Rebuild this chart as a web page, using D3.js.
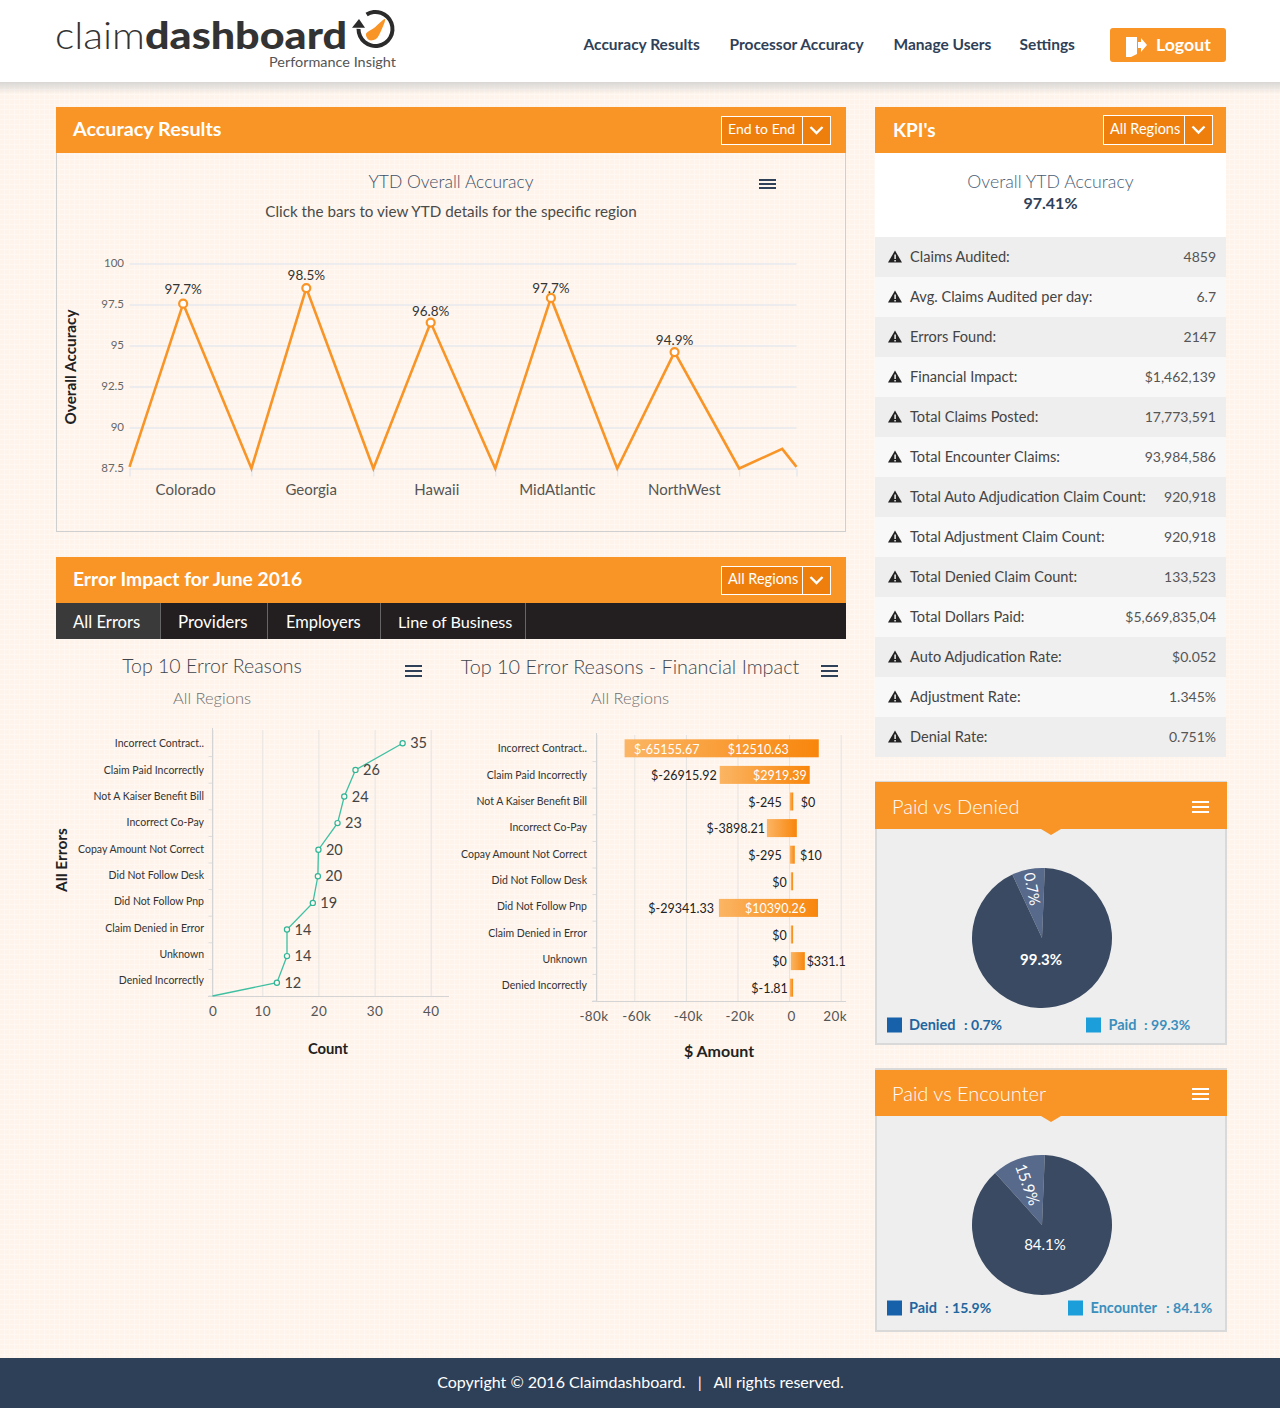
<!DOCTYPE html>
<html>
<head>
<meta charset="utf-8">
<title>Claimdashboard</title>
<script src="https://cdnjs.cloudflare.com/ajax/libs/d3/7.8.5/d3.min.js"></script>
<style>
html, body { margin: 0; padding: 0; background: #fef5ed; }
svg { display: block; }
text { font-family: Lato, "Open Sans", sans-serif; }
</style>
</head>
<body>
<div id="chart-area"></div>
<script>
// Navigation and KPI table
var navItems = ["Accuracy Results", "Processor Accuracy", "Manage Users", "Settings"];
var tabs = ["All Errors", "Providers", "Employers", "Line of Business"];
var kpiLabels = ["Claims Audited:", "Avg. Claims Audited per day:", "Errors Found:", "Financial Impact:",
	"Total Claims Posted:", "Total Encounter Claims:", "Total Auto Adjudication Claim Count:",
	"Total Adjustment Claim Count:", "Total Denied Claim Count:", "Total Dollars Paid:",
	"Auto Adjudication Rate:", "Adjustment Rate:", "Denial Rate:"];
var kpiValues = ["4859", "6.7", "2147", "$1,462,139", "17,773,591", "93,984,586", "920,918",
	"920,918", "133,523", "$5,669,835,04", "$0.052", "1.345%", "0.751%"];

// YTD accuracy line: peaks per region, drops to the base between them
var regions = ["Colorado", "Georgia", "Hawaii", "MidAtlantic", "NorthWest"];
var regionLabelPos = [0.46, 1.49, 2.52, 3.51, 4.55];
var accuracyPos = [0, 0.44, 1, 1.45, 2, 2.47, 3, 3.456, 4, 4.47, 5, 5.353, 5.47];
var accuracyVal = [87.6, 97.55, 87.5, 98.5, 87.5, 96.4, 87.5, 97.9, 87.5, 94.6, 87.5, 88.7, 87.6];
var peakIndex = [1, 3, 5, 7, 9];
var peakLabels = ["97.7%", "98.5%", "96.8%", "97.7%", "94.9%"];
var accuracyTicks = [87.5, 90, 92.5, 95, 97.5, 100];

// Top 10 error reasons
var reasons = ["Incorrect Contract..", "Claim Paid Incorrectly", "Not A Kaiser Benefit Bill", "Incorrect Co-Pay",
	"Copay Amount Not Correct", "Did Not Follow Desk", "Did Not Follow Pnp", "Claim Denied in Error",
	"Unknown", "Denied Incorrectly"];
var countLabels = ["35", "26", "24", "23", "20", "20", "19", "14", "14", "12"];
var countPlotted = [35, 26.6, 24.6, 23.4, 20, 19.9, 19, 14.4, 14.4, 12.6];
var countTicks = [0, 10, 20, 30, 40];

// Financial impact: bar ends as drawn, with the printed amounts beside them
var barLow = [-65155, -26900, 300, -8600, 300, 660, -27200, 660, 660, 300];
var barHigh = [11500, 8000, 1600, 3000, 2200, 1550, 11200, 1550, 6100, 1550];
var lowLabels = ["$-65155.67", "$-26915.92", "$-245", "$-3898.21", "$-295", "$0", "$-29341.33", "$0", "$0", "$-1.81"];
var highLabels = ["$12510.63", "$2919.39", "$0", "", "$10", "", "$10390.26", "", "$331.1", ""];
var amountTicks = [-80000, -60000, -40000, -20000, 0, 20000];

// Pies: first value is the lighter slice as drawn
var denialSlices = [7.6, 92.4];
var denialLabels = ["0.7%", "99.3%"];
var encounterSlices = [12.3, 87.7];
var encounterLabels = ["15.9%", "84.1%"];

var ORANGE = "#f99426", SLATE = "#2f4158";

var svg = d3.select("#chart-area").append("svg")
	.attr("width", 1280)
	.attr("height", 1408);
var defs = svg.append("defs");

// Page background with its faint grid
var tile = defs.append("pattern").attr("id", "grid")
	.attr("width", 5).attr("height", 5).attr("patternUnits", "userSpaceOnUse");
tile.append("rect").attr("width", 5).attr("height", 5).attr("fill", "#fff8f2");
tile.append("rect").attr("width", 4).attr("height", 4).attr("fill", "#fef4eb");
svg.append("rect").attr("width", 1280).attr("height", 1408).attr("fill", "url(#grid)");

var shadow = defs.append("linearGradient").attr("id", "shadow").attr("x2", 0).attr("y2", 1);
shadow.append("stop").attr("offset", 0).attr("stop-color", "#cfcfcf").attr("stop-opacity", 0.8);
shadow.append("stop").attr("offset", 1).attr("stop-color", "#cfcfcf").attr("stop-opacity", 0);

var barFill = defs.append("linearGradient").attr("id", "barFill");
barFill.append("stop").attr("offset", 0).attr("stop-color", "#fbb564");
barFill.append("stop").attr("offset", 1).attr("stop-color", "#f8860c");

function label(parent, x, y, str, size, color, anchor, weight) {
	return parent.append("text")
		.attr("x", x)
		.attr("y", y)
		.attr("dy", "0.35em")
		.attr("font-size", size)
		.attr("fill", color)
		.attr("text-anchor", anchor || "start")
		.attr("font-weight", weight || 400)
		.text(str);
}

function hamburger(x, y, w, gap, color) {
	[0, 1, 2].forEach(function(i) {
		svg.append("rect").attr("x", x).attr("y", y + i * gap)
			.attr("width", w).attr("height", 2).attr("fill", color);
	});
}

function chevron(cx, cy) {
	svg.append("path")
		.attr("d", d3.line()([[cx - 6, cy - 3], [cx, cy + 3], [cx + 6, cy - 3]]))
		.attr("fill", "none").attr("stroke", "#fff").attr("stroke-width", 2.4);
}

function dropdown(x, y, h, str, size) {
	svg.append("rect").attr("x", x + 0.5).attr("y", y + 0.5).attr("width", 109).attr("height", h)
		.attr("fill", "#ee7f0d").attr("stroke", "#fff");
	svg.append("line").attr("x1", x + 81.5).attr("x2", x + 81.5).attr("y1", y).attr("y2", y + h)
		.attr("stroke", "#fff");
	label(svg, x + 7, y + h / 2 - 1, str, size, "#fff");
	chevron(x + 95.5, y + h / 2);
}

// Top bar
svg.append("rect").attr("width", 1280).attr("height", 82).attr("fill", "#fff");
svg.append("rect").attr("y", 82).attr("width", 1280).attr("height", 12).attr("fill", "url(#shadow)");

svg.append("text").attr("x", 55).attr("y", 49).attr("font-size", 38).attr("font-weight", 300)
	.attr("fill", "#333").attr("textLength", 90).attr("lengthAdjust", "spacingAndGlyphs").text("claim");
svg.append("text").attr("x", 145).attr("y", 49).attr("font-size", 38).attr("font-weight", 900)
	.attr("fill", "#333").attr("textLength", 202).attr("lengthAdjust", "spacingAndGlyphs").text("dashboard");
label(svg, 269, 62, "Performance Insight", 13.5, "#555")
	.attr("textLength", 127).attr("lengthAdjust", "spacingAndGlyphs");
svg.append("path")
	.attr("d", d3.arc()({innerRadius: 15, outerRadius: 19, startAngle: -0.55, endAngle: 4.72}))
	.attr("transform", "translate(375.5,29)").attr("fill", "#2b2b2b");
svg.append("path")
	.attr("d", d3.line()([[352, 27.7], [365, 27.7], [359, 19]]))
	.attr("fill", "#2b2b2b");
svg.append("path")
	.attr("d", d3.line().curve(d3.curveCatmullRomClosed)([[366, 34], [374, 28], [385, 19], [381, 31], [376, 39], [369, 40]]))
	.attr("fill", ORANGE);

var navX = [583.5, 729.5, 893.5, 1019.5];
navItems.forEach(function(d, i) {
	label(svg, navX[i], 44.5, d, 15.5, SLATE, "start", 700);
});

svg.append("rect").attr("x", 1110).attr("y", 28).attr("width", 116).attr("height", 34)
	.attr("rx", 3).attr("fill", ORANGE);
svg.append("path").attr("d", "M1126 37h11v17l-6 3h-5zM1138 42h3v-4l6 7-6 7v-4h-3z").attr("fill", "#fff");
label(svg, 1156, 45, "Logout", 17.7, "#fff", "start", 700);

// Accuracy Results panel
svg.append("rect").attr("x", 56.5).attr("y", 150.5).attr("width", 789).attr("height", 381)
	.attr("fill", "none").attr("stroke", "#cfcfcf");
svg.append("rect").attr("x", 56).attr("y", 107).attr("width", 790).attr("height", 46).attr("fill", ORANGE);
label(svg, 73, 129, "Accuracy Results", 19.8, "#fff", "start", 700);
dropdown(721, 116, 28, "End to End", 14);
label(svg, 451, 182, "YTD Overall Accuracy", 17.5, "#3f5068", "middle", 300);
label(svg, 451, 212, "Click the bars to view YTD details for the specific region", 15.2, "#4a4a4a", "middle", 400);
hamburger(759, 179, 17, 4, SLATE);

var accX = d3.scaleLinear().domain([0, 5.47]).range([129.5, 796.5]);
var accY = d3.scaleLinear().domain([87.5, 100]).range([468.5, 263.5]);

var accGrid = svg.append("g").attr("transform", "translate(129.5,0)")
	.call(d3.axisLeft(accY).tickValues(accuracyTicks).tickSize(-667).tickPadding(5.5).tickFormat(d3.format("")));
accGrid.select(".domain").remove();
accGrid.selectAll("line").attr("stroke", "#dbe2ee");
accGrid.selectAll("text").attr("font-size", 11.5).attr("fill", "#666").attr("dy", "0.25em");

var accBottom = svg.append("g").attr("transform", "translate(0,468.5)")
	.call(d3.axisBottom(accX).tickValues([0, 1, 2, 3, 4, 5, 5.47]).tickSize(8).tickFormat(""));
accBottom.select(".domain").remove();
accBottom.selectAll("line").attr("stroke", "#dbe2ee");

regions.forEach(function(d, i) {
	label(svg, accX(regionLabelPos[i]), 490, d, 15, "#555", "middle", 400);
});

svg.append("path")
	.attr("d", d3.line()
		.x(function(d, i) { return accX(accuracyPos[i]); })
		.y(function(d) { return accY(d); })(accuracyVal))
	.attr("fill", "none").attr("stroke", ORANGE).attr("stroke-width", 2.6);

svg.selectAll(".peak").data(peakIndex).enter().append("circle")
	.attr("class", "peak")
	.attr("cx", function(d) { return accX(accuracyPos[d]); })
	.attr("cy", function(d) { return accY(accuracyVal[d]); })
	.attr("r", 4)
	.attr("fill", "#fff")
	.attr("stroke", ORANGE)
	.attr("stroke-width", 2.2);

// gap between each peak and its printed value
var peakGap = [14, 13, 11, 10, 12];
peakIndex.forEach(function(d, i) {
	label(svg, accX(accuracyPos[d]), accY(accuracyVal[d]) - peakGap[i], peakLabels[i], 13.5, "#333", "middle");
});

svg.append("text").attr("transform", "translate(71,367) rotate(-90)").attr("dy", "0.35em")
	.attr("text-anchor", "middle").attr("font-size", 15.3).attr("font-weight", 700).attr("fill", "#222")
	.text("Overall Accuracy");

// Error Impact panel
svg.append("rect").attr("x", 56).attr("y", 557).attr("width", 790).attr("height", 46).attr("fill", ORANGE);
label(svg, 73, 579, "Error Impact for June 2016", 19.3, "#fff", "start", 700);
dropdown(721, 566, 28, "All Regions", 14.5);

var tabEdges = [56, 160, 267, 380, 525];
var tabSizes = [16.7, 16.9, 16.4, 16.2];
svg.append("rect").attr("x", 56).attr("y", 603).attr("width", 790).attr("height", 36).attr("fill", "#231f20");
svg.append("rect").attr("x", 56).attr("y", 603).attr("width", 104).attr("height", 36).attr("fill", "#3a3a3a");
tabs.forEach(function(d, i) {
	label(svg, tabEdges[i] + (i === 2 ? 19 : i ? 18 : 17), 622, d, tabSizes[i], "#fff");
	svg.append("line").attr("x1", tabEdges[i + 1] + 0.5).attr("x2", tabEdges[i + 1] + 0.5)
		.attr("y1", 603).attr("y2", 639).attr("stroke", "#666");
});

label(svg, 212, 666, "Top 10 Error Reasons", 19.5, "#3f464e", "middle", 300);
label(svg, 212, 698, "All Regions", 16.5, "#6f6f6f", "middle", 300);
label(svg, 630, 667, "Top 10 Error Reasons - Financial Impact", 19.85, "#3f464e", "middle", 300);
label(svg, 630, 698, "All Regions", 16.5, "#6f6f6f", "middle", 300);
hamburger(405, 665, 17, 5, SLATE);
hamburger(821, 665, 17, 5, SLATE);

function reasonAxis(axisX, gap, yEdges, yLabels) {
	var g = svg.append("g").attr("transform", "translate(" + (axisX - gap) + ",0)")
		.call(d3.axisLeft(yLabels).tickSize(0).tickPadding(0));
	g.select(".domain").remove();
	g.selectAll("text").attr("font-size", 12).attr("fill", "#333")
		.attr("lengthAdjust", "spacingAndGlyphs")
		.attr("textLength", function() { return this.getComputedTextLength() * 0.875; });
	yEdges.domain().forEach(function(d) {
		svg.append("line").attr("x1", axisX - 4).attr("x2", axisX)
			.attr("y1", yEdges(d) + yEdges.step()).attr("y2", yEdges(d) + yEdges.step())
			.attr("stroke", "#dcdcdc");
	});
	svg.append("line").attr("x1", axisX).attr("x2", axisX)
		.attr("y1", yEdges.range()[0] - 2).attr("y2", yEdges.range()[1])
		.attr("stroke", "#d4d4d4");
}

function xAxisGrid(xScale, yEdges, ticks, format) {
	var top = yEdges.range()[0], bottom = yEdges.range()[1];
	var g = svg.append("g").attr("transform", "translate(0," + bottom + ")")
		.call(d3.axisBottom(xScale).tickValues(ticks).tickSize(top - bottom).tickPadding(0).tickFormat(format));
	g.select(".domain").remove();
	g.selectAll("line").attr("stroke", "#e6e3e0");
	g.selectAll("text").attr("font-size", 13.5).attr("fill", "#555").attr("y", 10).attr("letter-spacing", "0.4px");
	return g;
}

// Count chart
var countX = d3.scaleLinear().domain([0, 10, 40]).range([212.5, 262.3, 430.7]);
var countY = d3.scaleBand().domain(reasons).range([730, 996]);
var countYLabel = d3.scalePoint().domain(reasons).range([743, 980]);

xAxisGrid(countX, countY, countTicks, d3.format("d"));
svg.append("line").attr("x1", 208).attr("x2", 449).attr("y1", 996.5).attr("y2", 996.5).attr("stroke", "#d4d4d4");
reasonAxis(212.5, 8.5, countY, countYLabel);

var countPoints = countPlotted.map(function(d, i) {
	return [countX(d), countY(reasons[i]) + countY.bandwidth() / 2];
});
svg.append("path")
	.attr("d", d3.line()(countPoints.concat([[countX(0), countY.range()[1]]])))
	.attr("fill", "none").attr("stroke", "#3fc0a2").attr("stroke-width", 1.3);
svg.selectAll(".count").data(countPoints).enter().append("circle")
	.attr("class", "count")
	.attr("cx", function(d) { return d[0]; })
	.attr("cy", function(d) { return d[1]; })
	.attr("r", 2.6)
	.attr("fill", "#fff8f2")
	.attr("stroke", "#2fb596")
	.attr("stroke-width", 1.2);
countPoints.forEach(function(d, i) {
	label(svg, d[0] + 7.5, d[1], countLabels[i], 14.5, "#444");
});

label(svg, 328, 1049, "Count", 14.8, "#222", "middle", 700);
svg.append("text").attr("transform", "translate(62,860) rotate(-90)").attr("dy", "0.35em")
	.attr("text-anchor", "middle").attr("font-size", 15.5).attr("font-weight", 700).attr("fill", "#222")
	.text("All Errors");

// Amount chart
var amountX = d3.scaleLinear().domain([-80000, -60000, 20000]).range([596.5, 634.3, 840.7]);
var amountY = d3.scaleBand().domain(reasons).range([735, 1001]);
var amountYLabel = d3.scalePoint().domain(reasons).range([748, 985]);

var amountFormat = function(d) { return d ? (d / 1000) + "k" : "0"; };
var amountGrid = xAxisGrid(amountX, amountY, amountTicks, amountFormat);
amountGrid.selectAll("text")
	.attr("dx", function(d) { return d === 20000 ? -6 : d === -80000 ? -3 : 2; });
svg.append("line").attr("x1", 592).attr("x2", 846).attr("y1", 1001.5).attr("y2", 1001.5).attr("stroke", "#d4d4d4");
reasonAxis(596.5, 9.5, amountY, amountYLabel);

svg.selectAll(".amount").data(reasons).enter().append("rect")
	.attr("class", "amount")
	.attr("x", function(d, i) { return amountX(barLow[i]); })
	.attr("y", function(d) { return amountY(d) + (amountY.bandwidth() - 18) / 2; })
	.attr("width", function(d, i) { return amountX(barHigh[i]) - amountX(barLow[i]); })
	.attr("height", 18)
	.attr("fill", "url(#barFill)");

// where each printed amount sits, relative to its bar end
var lowNudge = [75, -3, -8, -2, -8, -4, -5, -4, -4, -2];
var highNudge = [-30, -3, 22, 0, 27, 0, -12, 0, 41, 0];
reasons.forEach(function(d, i) {
	var cy = amountY(d) + amountY.bandwidth() / 2 + 1;
	label(svg, amountX(barLow[i]) + lowNudge[i], cy, lowLabels[i], 12.5, lowNudge[i] > 0 ? "#fff" : "#222", "end");
	if (highLabels[i]) {
		label(svg, amountX(barHigh[i]) + highNudge[i], cy, highLabels[i], 12.5, highNudge[i] < 0 ? "#fff" : "#222", "end");
	}
});

label(svg, 719, 1051, "$ Amount", 16, "#222", "middle", 700);

// KPI panel
svg.append("rect").attr("x", 875).attr("y", 107).attr("width", 351).attr("height", 46).attr("fill", ORANGE);
label(svg, 893, 130, "KPI's", 19, "#fff", "start", 700);
dropdown(1103, 115, 29, "All Regions", 14.5);
svg.append("rect").attr("x", 875).attr("y", 153).attr("width", 351).attr("height", 84).attr("fill", "#fff");
label(svg, 1050.5, 182, "Overall YTD Accuracy", 17.7, "#4a5d75", "middle", 300);
label(svg, 1050.5, 203, "97.41%", 16, SLATE, "middle", 700);

var kpiY = d3.scaleBand().domain(kpiLabels).range([237, 757]);
var kpiRow = svg.selectAll(".kpi").data(kpiLabels).enter().append("g")
	.attr("class", "kpi")
	.attr("transform", function(d) { return "translate(875," + kpiY(d) + ")"; });
kpiRow.append("rect")
	.attr("width", 351)
	.attr("height", kpiY.bandwidth())
	.attr("fill", function(d, i) { return i % 2 ? "#f8f8f8" : "#eeeeee"; });
kpiRow.append("path")
	.attr("d", d3.symbol().type(d3.symbolTriangle).size(85))
	.attr("transform", "translate(20,21.5)")
	.attr("fill", "#222");
kpiRow.append("rect").attr("x", 19.4).attr("y", 17.5).attr("width", 1.4).attr("height", 4.5).attr("fill", "#fff");
kpiRow.append("rect").attr("x", 19.4).attr("y", 23).attr("width", 1.4).attr("height", 1.5).attr("fill", "#fff");
kpiRow.append("text")
	.attr("x", 35)
	.attr("y", 20)
	.attr("dy", "0.35em")
	.attr("font-size", 14.6)
	.attr("fill", "#444")
	.text(function(d) { return d; });
kpiRow.append("text")
	.attr("x", 341)
	.attr("y", 20)
	.attr("dy", "0.35em")
	.attr("text-anchor", "end")
	.attr("font-size", 14)
	.attr("fill", "#555")
	.text(function(d, i) { return kpiValues[i]; });

// Pie panels
function piePanel(top, bottom, title, slices, labels, boldMain, legend) {
	svg.append("rect").attr("x", 876).attr("y", top).attr("width", 350).attr("height", bottom - top)
		.attr("fill", "#eeeeee").attr("stroke", "#d9d9d9").attr("stroke-width", 2);
	svg.append("rect").attr("x", 875).attr("y", legend.headTop).attr("width", 352).attr("height", top + 47 - legend.headTop).attr("fill", ORANGE);
	svg.append("path")
		.attr("d", d3.line()([[1041, top + 47], [1061, top + 47], [1051, top + 53]]))
		.attr("fill", ORANGE);
	label(svg, 892, top + 25, title, 20, "#fff", "start", 300);
	hamburger(1192, top + 19, 17, 5, "#fff");

	var cx = 1042, cy = top + 156, radius = 70;
	var tilt = 2.3 * Math.PI / 180;
	var pie = d3.pie().sort(null).startAngle(tilt - 2 * Math.PI * slices[0] / 100).endAngle(tilt + 2 * Math.PI * slices[1] / 100);
	var arcs = pie(slices);
	var pieArc = d3.arc().innerRadius(0).outerRadius(radius);
	var g = svg.append("g").attr("transform", "translate(" + cx + "," + cy + ")");
	g.selectAll("path").data(arcs).enter().append("path")
		.attr("d", pieArc)
		.attr("fill", function(d, i) { return i ? "#3a4a62" : "#576a8c"; });

	var slice = arcs[0];
	var mid = (slice.startAngle + slice.endAngle) / 2;
	var spot = d3.arc().innerRadius(legend.labelRadius).outerRadius(legend.labelRadius).centroid(slice);
	g.append("text")
		.attr("transform", "translate(" + spot[0] + "," + spot[1] + ") rotate(" + (90 + mid * 180 / Math.PI) + ")")
		.attr("dy", "0.35em").attr("text-anchor", "middle")
		.attr("font-size", legend.sliceSize).attr("fill", "#fff")
		.text(labels[0]);
	label(g, legend.mainX, legend.mainY, labels[1], 15, "#fff", "middle", boldMain ? 700 : 400);

	var ly = top + legend.rowY;
	svg.append("rect").attr("x", 887).attr("y", ly - 7.5).attr("width", 15).attr("height", 15).attr("fill", "#1760aa");
	label(svg, 909, ly, legend.names[0], 14.5, "#1f669f", "start", 700);
	label(svg, legend.colonX[0], ly, ": " + labels[1 - legend.valueIndex[0]], 14, "#1f669f", "start", 700);
	svg.append("rect").attr("x", legend.square2).attr("y", ly - 7.5).attr("width", 15).attr("height", 15).attr("fill", "#1b9ed9");
	label(svg, legend.square2 + 22.5, ly, legend.names[1], 14.5, "#3a8fbd", "start", 700);
	label(svg, legend.colonX[1], ly, ": " + labels[1 - legend.valueIndex[1]], 14, "#3a8fbd", "start", 700);
}

piePanel(782, 1044, "Paid vs Denied", denialSlices, denialLabels, true, {
	headTop: 782, labelRadius: 50, sliceSize: 15, mainX: -1, mainY: 21.5, rowY: 243, square2: 1086,
	names: ["Denied", "Paid"], colonX: [964, 1144], valueIndex: [1, 0]
});
piePanel(1069, 1331, "Paid vs Encounter", encounterSlices, encounterLabels, false, {
	headTop: 1070, labelRadius: 43, sliceSize: 15.5, mainX: 3, mainY: 20, rowY: 239, square2: 1068,
	names: ["Paid", "Encounter"], colonX: [945, 1166], valueIndex: [1, 0]
});

// Footer
svg.append("rect").attr("y", 1358).attr("width", 1280).attr("height", 50).attr("fill", "#2e4057");
label(svg, 640.5, 1382, "Copyright © 2016 Claimdashboard.   |   All rights reserved.", 16, "#fff", "middle")
	.style("white-space", "pre");
</script>
</body>
</html>
